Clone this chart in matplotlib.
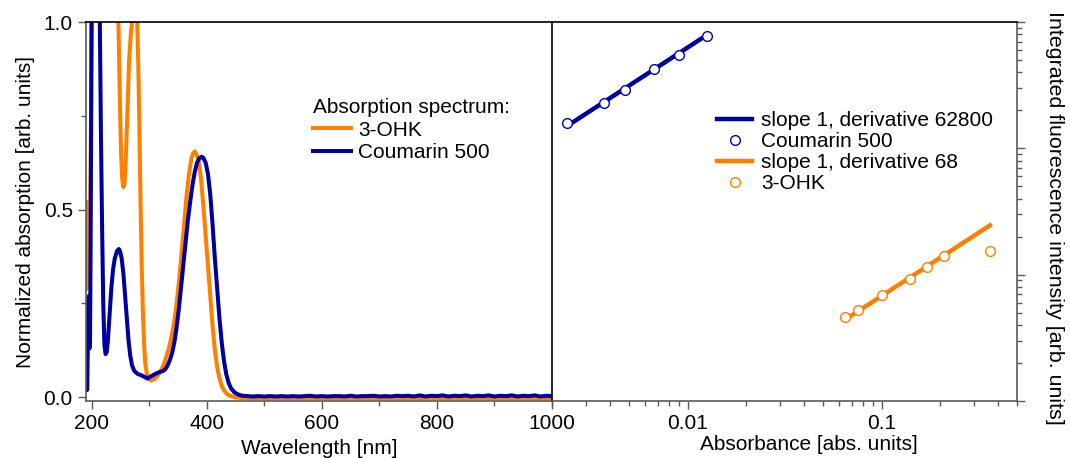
import numpy as np
import matplotlib
matplotlib.use('Agg')
import matplotlib.pyplot as plt
from matplotlib.ticker import FixedLocator, FixedFormatter, LogLocator, NullFormatter, MultipleLocator

#%% fonts and colours
plt.rcParams['font.family'] = ['Liberation Sans', 'DejaVu Sans']
plt.rcParams['font.size'] = 15
ORANGE = '#FF8000'
BLUE = '#0000A0'
GREY = '#5a5a5a'

#%% absorption spectra
ohk_wl = [190.5, 191.5, 192.2, 193.5, 194.2, 195, 197, 198.5, 200, 205, 240, 245, 247,
          249, 251, 253, 255, 257, 259, 262, 265, 268, 270, 274, 279, 281, 283, 285,
          287, 289, 291, 293, 296, 299, 303, 308, 313, 318, 323, 328, 333, 337, 341,
          345, 349, 353, 357, 361, 365, 369, 373, 376, 379, 382, 386, 390, 394, 398,
          402, 406, 410, 414, 418, 422, 426, 430, 435, 440, 450, 460, 500, 600, 700,
          800, 900, 1000]
ohk_abs = [0.29, 0.30, 0.52, 0.52, 0.30, 0.33, 0.45, 0.70, 1.10, 1.50, 1.50, 1.10, 0.95,
           0.78, 0.65, 0.58, 0.56, 0.57, 0.63, 0.76, 0.90, 0.97, 1.00, 1.03, 1.00, 0.88,
           0.70, 0.50, 0.34, 0.22, 0.14, 0.09, 0.06, 0.048, 0.045, 0.048, 0.055, 0.065,
           0.08, 0.10, 0.125, 0.15, 0.18, 0.22, 0.27, 0.33, 0.40, 0.47, 0.54, 0.595,
           0.635, 0.65, 0.655, 0.648, 0.63, 0.58, 0.51, 0.43, 0.35, 0.27, 0.19, 0.125,
           0.08, 0.05, 0.03, 0.018, 0.009, 0.004, 0.0, -0.002, -0.003, -0.003, -0.003,
           -0.003, -0.003, -0.003]

c500_wl = [190.5, 191.5, 192, 193, 194, 195, 196, 197, 198, 199, 200, 202, 208, 212,
           214, 216, 218, 220, 222, 224, 226, 228, 231, 234, 237, 240, 244, 247, 249,
           252, 255, 258, 261, 264, 267, 270, 274, 280, 287, 293, 297, 302, 308, 314,
           320, 324, 328, 332, 336, 340, 344, 347, 351, 355, 359, 363, 367, 371, 375,
           379, 383, 387, 391, 394, 398, 402, 406, 410, 414, 418, 422, 426, 430, 434,
           438, 442, 448, 455, 462, 470,
           480, 490, 500, 510, 520, 530, 540, 550, 560, 570, 580, 590, 600, 610, 620,
           630, 640, 650, 660, 670, 680, 690, 700, 710, 720, 730, 740, 750, 760, 770,
           780, 790, 800, 810, 820, 830, 840, 850, 860, 870, 880, 890, 900, 910, 920,
           930, 940, 950, 960, 970, 980, 990, 1000]
c500_abs = [0.02, 0.13, 0.02, 0.12, 0.26, 0.27, 0.13, 0.15, 0.40, 0.75, 1.10, 1.40, 1.60,
            1.30, 1.00, 0.70, 0.45, 0.25, 0.14, 0.115, 0.12, 0.15, 0.22, 0.29, 0.34,
            0.37, 0.39, 0.395, 0.39, 0.37, 0.33, 0.27, 0.21, 0.15, 0.11, 0.085, 0.07,
            0.062, 0.058, 0.053, 0.05, 0.055, 0.06, 0.065, 0.068, 0.07, 0.075, 0.085,
            0.10, 0.12, 0.15, 0.18, 0.23, 0.29, 0.35, 0.41, 0.47, 0.52, 0.565, 0.60,
            0.625, 0.637, 0.641, 0.638, 0.625, 0.595, 0.54, 0.46, 0.37, 0.29, 0.21,
            0.145, 0.095, 0.06, 0.038, 0.024, 0.013, 0.007, 0.004, 0.003,
            0.002, 0.003, 0.002, 0.003, 0.002, 0.003, 0.002, 0.003, 0.002, 0.003,
            0.004, 0.002, 0.003, 0.002, 0.003, 0.003, 0.002, 0.004, 0.002, 0.003,
            0.003, 0.004, 0.002, 0.003, 0.002, 0.004, 0.003, 0.004, 0.002, 0.005,
            0.002, 0.004, 0.003, 0.005, 0.002, 0.004, 0.003, 0.005, 0.002, 0.004,
            0.003, 0.005, 0.002, 0.004, 0.003, 0.005, 0.002, 0.004, 0.003, 0.005,
            0.002, 0.004, 0.003]

#%% fluorescence vs absorbance
c500_A = [0.002395, 0.003703, 0.004735, 0.00670, 0.009052, 0.01253]
c500_F = [158.7, 226.9, 287.6, 427.3, 551.6, 780.4]
ohk_A = [0.0647, 0.07518, 0.1, 0.1399, 0.1706, 0.2103, 0.3615]
ohk_F = [4.605, 5.29, 6.955, 9.21, 11.47, 14.02, 15.52]
c500_deriv = 62800
ohk_deriv = 68

#%% figure
fig = plt.figure(figsize=(10.7, 4.58), dpi=100)
W, H = 1070.0, 458.0
ax2 = fig.add_axes([552 / W, (H - 401) / H, (1017.3 - 552) / W, 379 / H])
ax1 = fig.add_axes([86 / W, (H - 401) / H, (552 - 86) / W, 379 / H])
ax1.patch.set_alpha(0)

# left panel: spectra
ax1.plot(ohk_wl, ohk_abs, color=ORANGE, lw=2.9, label='3-OHK')
ax1.plot(c500_wl, c500_abs, color=BLUE, lw=2.9, label='Coumarin 500')
ax1.set_xlim(190, 1000)
ax1.set_ylim(-0.01, 1.0)
ax1.xaxis.set_major_locator(MultipleLocator(200))
ax1.xaxis.set_minor_locator(MultipleLocator(100))
ax1.yaxis.set_major_locator(FixedLocator([0.0, 0.5, 1.0]))
ax1.yaxis.set_minor_locator(FixedLocator([0.25, 0.75]))
ax1.set_yticklabels(['0.0', '0.5', '1.0'])
ax1.set_xlabel('Wavelength [nm]')
ax1.set_ylabel('Normalized absorption [arb. units]', labelpad=6)
leg1 = ax1.legend(title='Absorption spectrum:', loc='upper left',
                  bbox_to_anchor=((313 - 86) / 466, (401 - 98) / 379),
                  frameon=False, alignment='left', borderpad=0, borderaxespad=0,
                  handlelength=1.8, handletextpad=0.35, labelspacing=0.17)
leg1.get_title().set_fontsize(15)

# right panel: fluorescence
ax2.plot([c500_A[0], c500_A[-1]], [c500_deriv * c500_A[0], c500_deriv * c500_A[-1]],
         color=BLUE, lw=3.2, label='slope 1, derivative 62800', zorder=2)
ax2.plot(c500_A, c500_F, 'o', ms=7, mfc='white', mec=BLUE, mew=1.0,
         label='Coumarin 500', zorder=3)
ax2.plot([ohk_A[0], ohk_A[-1]], [ohk_deriv * ohk_A[0], ohk_deriv * ohk_A[-1]],
         color=ORANGE, lw=3.2, label='slope 1, derivative 68', zorder=2)
ax2.plot(ohk_A, ohk_F, 'o', ms=7, mfc='white', mec=ORANGE, mew=1.0,
         label='3-OHK', zorder=3)
ax2.set_xscale('log')
ax2.set_yscale('log')
ax2.set_xlim(0.002, 0.5)
ax2.set_ylim(1, 1000)
ax2.xaxis.set_major_locator(FixedLocator([0.01, 0.1]))
ax2.xaxis.set_major_formatter(FixedFormatter(['0.01', '0.1']))
ax2.xaxis.set_minor_locator(LogLocator(base=10, subs=np.arange(2, 10)))
ax2.xaxis.set_minor_formatter(NullFormatter())
ax2.yaxis.set_major_locator(LogLocator(base=10))
ax2.yaxis.set_minor_locator(LogLocator(base=10, subs=np.arange(2, 10)))
ax2.yaxis.tick_right()
ax2.yaxis.set_label_position('right')
ax2.tick_params(axis='y', which='both', labelright=False)
ax2.set_xlabel('Absorbance [abs. units]')
ax2.xaxis.set_label_coords((809 - 552) / 465.3, -0.09)
ax2.set_ylabel('Integrated fluorescence intensity [arb. units]', rotation=270,
               fontsize=15.4)
ax2.yaxis.set_label_coords(1.10, 0.482)
ax2.legend(loc='upper left', bbox_to_anchor=((717 - 552) / 465.3, (401 - 111) / 379),
           frameon=False, borderpad=0, borderaxespad=0, handlelength=1.7,
           handletextpad=0.4, labelspacing=0.1)

#%% spines and ticks
for ax in (ax1, ax2):
    for sp in ax.spines.values():
        sp.set_linewidth(1.2)
    ax.spines['top'].set_color('black')
    ax.spines['bottom'].set_color(GREY)
    ax.tick_params(which='both', direction='out', color=GREY, labelcolor='black',
                   labelsize=15)
    ax.tick_params(which='major', length=6, width=1)
    ax.tick_params(which='minor', length=3.5, width=1)
ax1.spines['left'].set_color(GREY)
ax1.spines['right'].set_color('black')
ax2.spines['left'].set_visible(False)
ax2.spines['right'].set_color(GREY)

fig.savefig('out.png', dpi=100)
